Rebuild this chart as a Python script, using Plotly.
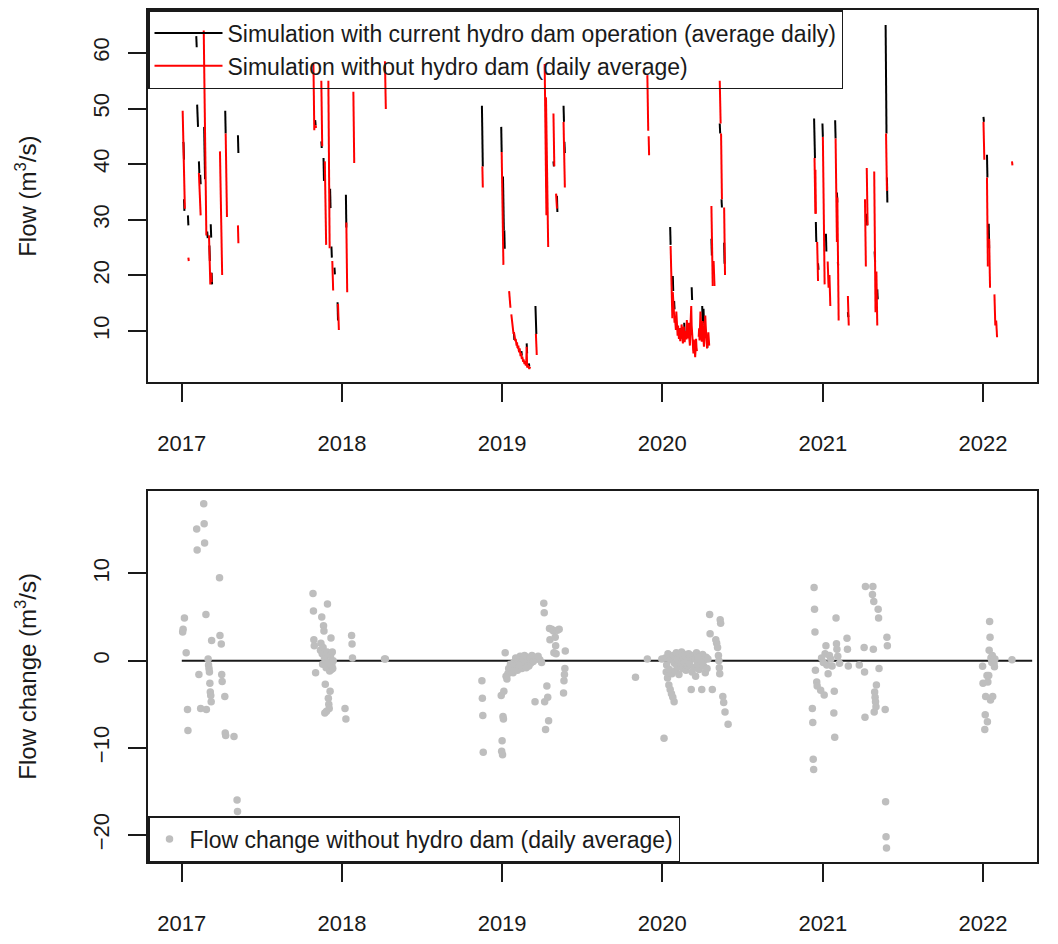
import pandas as pd
import plotly.graph_objects as go

# ---------------- data ----------------
year_ticks = ["2017-01-01", "2018-01-01", "2019-01-01", "2020-01-01", "2021-01-01", "2022-01-01"]
year_labels = ["2017", "2018", "2019", "2020", "2021", "2022"]
flow_ticks = [10, 20, 30, 40, 50, 60]
change_ticks = [-20, -10, 0, 10]

# daily runs: (first day, consecutive daily values) -- simulation with current hydro dam operation
cur_runs = [
    ("2017-01-04", [44.0, 43.8, 40.8]), ("2017-01-06", [33.7, 31.6]), ("2017-01-15", [30.8, 29.0]),
    ("2017-02-03", [63.0, 61.0]), ("2017-02-05", [50.7, 48.5, 46.7]), ("2017-02-09", [40.5, 38.4]),
    ("2017-02-12", [38.1, 36.4]), ("2017-02-21", [46.7, 42.0, 37.3]), ("2017-02-28", [27.9, 26.7]),
    ("2017-03-05", [25.4, 22.6]), ("2017-03-08", [29.2, 26.8]), ("2017-03-10", [20.5, 18.4]),
    ("2017-04-10", [49.6, 45.5]), ("2017-05-09", [45.2, 42.0]),
    ("2017-11-01", [47.9, 47.0]), ("2017-11-15", [44.1, 42.9]), ("2017-11-20", [41.1, 37.0]),
    ("2017-12-05", [35.6, 32.1]), ("2017-12-08", [25.2, 23.2]), ("2017-12-15", [21.4, 20.2]),
    ("2017-12-22", [15.2, 11.9]), ("2018-01-10", [34.5, 28.6]),
    ("2018-11-16", [50.5, 45.0, 39.6]), ("2018-12-30", [46.7, 42.2]), ("2019-01-03", [37.8, 33.0, 28.1]),
    ("2019-01-06", [28.1, 24.8]), ("2019-01-28", [9.6, 8.4]), ("2019-02-14", [6.4, 5.6]),
    ("2019-02-26", [7.8, 6.0]), ("2019-03-03", [4.2, 3.6]), ("2019-03-18", [14.5, 12.0, 9.5]),
    ("2019-04-12", [37.0, 35.5]), ("2019-04-28", [40.5, 39.6]), ("2019-05-06", [34.3, 31.4]),
    ("2019-05-21", [50.5, 47.6]), ("2019-05-23", [44.0, 42.0]),
    ("2020-01-19", [28.7, 25.5]), ("2020-01-25", [19.9, 17.2]), ("2020-01-28", [15.4, 13.9]),
    ("2020-02-10", [9.0, 10.5, 8.6]), ("2020-02-20", [11.5, 9.5]), ("2020-03-08", [17.9, 15.6]),
    ("2020-03-12", [8.0, 6.5]), ("2020-04-01", [14.5, 11.0]), ("2020-04-03", [12.5, 14.0, 11.5]),
    ("2020-04-12", [9.0, 7.0]), ("2020-04-22", [26.6, 23.6]), ("2020-05-11", [47.3, 45.5]),
    ("2020-05-15", [33.7, 32.2]), ("2020-05-21", [25.9, 22.1]),
    ("2020-12-12", [48.2, 44.0, 41.1]), ("2020-12-16", [29.6, 26.0]), ("2020-12-21", [22.2, 21.0]),
    ("2020-12-31", [47.3, 44.9]), ("2021-01-08", [27.5, 24.3]), ("2021-01-29", [47.9, 44.6]),
    ("2021-02-02", [34.9, 33.1]), ("2021-02-04", [22.4, 21.8]), ("2021-02-27", [13.4, 12.5]),
    ("2021-04-11", [31.1, 29.0]), ("2021-04-29", [24.3, 22.5]), ("2021-05-05", [17.5, 15.7]),
    ("2021-05-24", [65.0, 55.0, 45.5]), ("2021-05-27", [37.6, 33.1]),
    ("2022-01-02", [48.5, 47.6]), ("2022-01-10", [41.7, 37.6]), ("2022-01-14", [29.3, 24.9]),
]

# daily runs -- simulation without hydro dam
nodam_runs = [
    ("2017-01-03", [49.6, 45.0, 40.8, 36.0, 33.7, 32.0]), ("2017-01-16", [23.2, 22.6]),
    ("2017-02-09", [38.4, 36.0, 34.3, 32.5, 30.8]), ("2017-02-20", [64.0, 58.0, 50.0, 42.0, 35.0, 30.0, 27.2]),
    ("2017-03-04", [27.2, 24.0, 21.0, 18.4, 19.5, 20.5, 18.8]), ("2017-03-29", [42.3, 36.0, 30.2, 27.8, 24.0, 20.1]),
    ("2017-04-11", [45.5, 40.0, 35.0, 30.5]), ("2017-05-09", [29.0, 25.8]),
    ("2017-10-28", [58.0, 52.0, 46.1]), ("2017-11-02", [47.0, 46.5]), ("2017-11-15", [55.0, 49.0, 43.2]),
    ("2017-11-23", [40.5, 35.0, 30.0, 25.5]), ("2017-12-01", [55.0, 45.0, 35.0, 24.9]),
    ("2017-12-10", [22.6, 20.0, 17.3]), ("2017-12-23", [14.9, 12.5, 10.2]),
    ("2018-01-11", [29.5, 23.0, 17.0]), ("2018-01-27", [53.0, 46.0, 40.2]), ("2018-04-09", [58.5, 54.0, 49.9]),
    ("2018-11-17", [39.6, 35.8]), ("2018-12-31", [42.2, 36.0, 30.0, 26.0, 21.9]),
    ("2019-01-17", [17.2, 16.0, 15.4, 14.2]),
    ("2019-01-22", [13.0, 12.0, 11.2, 10.7, 10.0, 9.5, 9.8, 8.8, 9.2, 8.2, 8.6, 7.8, 7.4, 8.0, 7.0]),
    ("2019-02-06", [6.8, 7.4, 6.5, 6.2, 6.9, 5.8, 5.5, 6.1, 5.2, 5.0, 5.4, 4.7, 4.5, 4.9, 4.3, 4.1,
                    4.6, 4.0, 3.8, 4.2, 7.2, 3.6, 3.5, 3.9, 3.4, 3.3, 3.2, 3.5, 3.3]),
    ("2019-03-19", [9.5, 7.5, 5.7]), ("2019-04-08", [58.0, 50.0, 42.0, 35.0, 30.8]),
    ("2019-04-11", [52.0, 44.0, 36.0, 30.0, 27.0, 25.1]), ("2019-04-28", [49.1, 44.0, 39.6]),
    ("2019-05-04", [34.7, 33.0, 32.0]), ("2019-05-21", [47.6, 42.0, 38.0, 35.8]),
    ("2019-11-28", [56.0, 50.0, 46.0]), ("2019-12-01", [45.0, 41.6]),
    ("2020-01-20", [25.3, 21.0, 17.0, 14.0, 12.3]),
    ("2020-01-25", [17.0, 15.5, 14.0, 12.8, 11.5, 12.5, 11.0, 10.2, 13.5, 11.8, 10.0, 9.2, 11.0, 9.8,
                    8.6, 10.5, 9.0, 8.2, 9.5, 8.8, 11.2, 9.6, 8.4, 7.8, 9.0, 10.8, 9.2, 8.0, 8.9, 10.0,
                    9.1, 8.5, 12.0, 9.4, 8.7, 9.9, 11.5, 9.3, 8.2, 7.4, 10.4, 12.5, 14.5, 11.0, 9.0, 8.0,
                    7.0, 6.0, 8.5, 7.5, 6.2, 5.3, 6.8, 8.6, 7.1, 6.4]),
    ("2020-03-24", [9.0, 10.5, 8.3, 12.0, 13.5, 11.2, 9.4, 8.1, 10.0, 11.8, 9.6, 8.0, 7.2, 8.8, 10.2,
                    12.8, 11.0, 9.5, 7.8, 6.9, 8.4, 7.6, 9.8, 8.2, 7.4]),
    ("2020-04-22", [32.5, 26.0, 20.0, 18.1]), ("2020-04-27", [22.6, 20.5, 18.1]),
    ("2020-05-11", [55.0, 51.0, 47.3]), ("2020-05-14", [45.5, 40.0, 33.7]), ("2020-05-21", [32.2, 26.0, 20.1]),
    ("2020-12-13", [41.1, 36.0, 31.1]), ("2020-12-15", [39.0, 31.1]), ("2020-12-19", [26.0, 22.0, 19.0]),
    ("2021-01-01", [44.9, 38.0, 31.0, 25.0, 18.4]), ("2021-01-12", [22.5, 20.0, 17.8]),
    ("2021-01-16", [20.1, 17.0, 14.5]), ("2021-01-30", [44.6, 38.0, 32.0, 26.0]),
    ("2021-02-03", [34.0, 26.0, 19.0, 11.9]), ("2021-02-27", [16.3, 13.0, 11.0]),
    ("2021-04-07", [33.7, 28.0, 21.6]), ("2021-04-11", [39.3, 34.0, 29.0]),
    ("2021-04-28", [38.7, 30.0, 22.0, 13.4]), ("2021-05-03", [20.7, 15.0, 11.0]),
    ("2021-05-25", [45.5, 40.0, 35.2]),
    ("2022-01-02", [47.6, 44.0, 40.8]), ("2022-01-10", [37.6, 30.0, 21.6]), ("2022-01-15", [26.6, 22.0, 17.8]),
    ("2022-01-27", [16.6, 13.0, 11.0]), ("2022-01-31", [11.9, 10.0, 8.9]), ("2022-03-08", [40.5, 39.8]),
]

# flow change without hydro dam (daily average)
change_dates = [
    "2017-01-03", "2017-01-04", "2017-01-07", "2017-01-11", "2017-01-14", "2017-01-15", "2017-02-04",
    "2017-02-05", "2017-02-09", "2017-02-13", "2017-02-20", "2017-02-21", "2017-02-22", "2017-02-25",
    "2017-02-26", "2017-03-02", "2017-03-03", "2017-03-04", "2017-03-05", "2017-03-06", "2017-03-07",
    "2017-03-08", "2017-03-09", "2017-03-10", "2017-03-28", "2017-03-29", "2017-04-01", "2017-04-02",
    "2017-04-03", "2017-04-09", "2017-04-10", "2017-04-11", "2017-04-30", "2017-05-07", "2017-05-08",
    "2017-10-27", "2017-10-28", "2017-10-29", "2017-10-30", "2017-11-02", "2017-11-13", "2017-11-14",
    "2017-11-16", "2017-11-17", "2017-11-18", "2017-11-19", "2017-11-20", "2017-11-21", "2017-11-22",
    "2017-11-23", "2017-11-24", "2017-11-25", "2017-11-26", "2017-11-27", "2017-11-28", "2017-11-29",
    "2017-11-30", "2017-12-01", "2017-12-02", "2017-12-03", "2017-12-04", "2017-12-05", "2017-12-06",
    "2017-12-07", "2017-12-08", "2017-12-09", "2017-12-10", "2017-12-11", "2017-12-12", "2018-01-08",
    "2018-01-10", "2018-01-23", "2018-01-24", "2018-01-25", "2018-04-08", "2018-04-10",
    "2018-11-16", "2018-11-17", "2018-11-18", "2018-11-19", "2018-12-30", "2018-12-31", "2019-01-01",
    "2019-01-02", "2019-01-03", "2019-01-04", "2019-01-05", "2019-01-08", "2019-01-10", "2019-01-12",
    "2019-01-14", "2019-01-16", "2019-01-18", "2019-01-20", "2019-01-22", "2019-01-24", "2019-01-26",
    "2019-01-28", "2019-01-30", "2019-02-01", "2019-02-03", "2019-02-05", "2019-02-07", "2019-02-09",
    "2019-02-11", "2019-02-13", "2019-02-15", "2019-02-17", "2019-02-19", "2019-02-21", "2019-02-23",
    "2019-02-25", "2019-02-27", "2019-03-01", "2019-03-03", "2019-03-05", "2019-03-07", "2019-03-10",
    "2019-03-13", "2019-03-17", "2019-03-20", "2019-03-24", "2019-03-28", "2019-04-01", "2019-04-06",
    "2019-04-07", "2019-04-08", "2019-04-10", "2019-04-13", "2019-04-15", "2019-04-17", "2019-04-19",
    "2019-04-20", "2019-04-24", "2019-04-28", "2019-04-29", "2019-05-02", "2019-05-03", "2019-05-04",
    "2019-05-07", "2019-05-11", "2019-05-21", "2019-05-22", "2019-05-23", "2019-05-24", "2019-05-25",
    "2019-11-01", "2019-11-28", "2019-12-31", "2020-01-05", "2020-01-08", "2020-01-10", "2020-01-11",
    "2020-01-13", "2020-01-14", "2020-01-16", "2020-01-17", "2020-01-19", "2020-01-20", "2020-01-22",
    "2020-01-23", "2020-01-25", "2020-01-26", "2020-01-28", "2020-01-29", "2020-01-31", "2020-02-02",
    "2020-02-04", "2020-02-06", "2020-02-08", "2020-02-10", "2020-02-12", "2020-02-14", "2020-02-16",
    "2020-02-18", "2020-02-20", "2020-02-22", "2020-02-24", "2020-02-26", "2020-02-28", "2020-03-01",
    "2020-03-03", "2020-03-05", "2020-03-07", "2020-03-09", "2020-03-11", "2020-03-13", "2020-03-15",
    "2020-03-17", "2020-03-19", "2020-03-21", "2020-03-23", "2020-03-25", "2020-03-27", "2020-03-29",
    "2020-03-31", "2020-04-02", "2020-04-04", "2020-04-06", "2020-04-08", "2020-04-10", "2020-04-12",
    "2020-04-14", "2020-04-18", "2020-04-19", "2020-04-24", "2020-05-02", "2020-05-04", "2020-05-06",
    "2020-05-08", "2020-05-09", "2020-05-10", "2020-05-11", "2020-05-12", "2020-05-13", "2020-05-18",
    "2020-05-20", "2020-05-23", "2020-05-30",
    "2020-12-08", "2020-12-09", "2020-12-10", "2020-12-11", "2020-12-12", "2020-12-13", "2020-12-14",
    "2020-12-15", "2020-12-18", "2020-12-19", "2020-12-27", "2020-12-29", "2021-01-02", "2021-01-04",
    "2021-01-06", "2021-01-08", "2021-01-10", "2021-01-13", "2021-01-16", "2021-01-19", "2021-01-22",
    "2021-01-26", "2021-01-27", "2021-01-28", "2021-01-31", "2021-02-01", "2021-02-02", "2021-02-04",
    "2021-02-08", "2021-02-25", "2021-02-26", "2021-02-28", "2021-03-25", "2021-04-05", "2021-04-06",
    "2021-04-07", "2021-04-08", "2021-04-24", "2021-04-25", "2021-04-26", "2021-04-27", "2021-04-28",
    "2021-04-29", "2021-04-30", "2021-05-01", "2021-05-02", "2021-05-03", "2021-05-07", "2021-05-08",
    "2021-05-09", "2021-05-23", "2021-05-24", "2021-05-25", "2021-05-26", "2021-05-27", "2021-05-28",
    "2021-12-31", "2022-01-01", "2022-01-05", "2022-01-06", "2022-01-07", "2022-01-10", "2022-01-11",
    "2022-01-12", "2022-01-14", "2022-01-15", "2022-01-16", "2022-01-17", "2022-01-18", "2022-01-19",
    "2022-01-21", "2022-01-22", "2022-01-23", "2022-01-26", "2022-01-27", "2022-01-28", "2022-03-08",
]
change_values = [
    3.3, 3.6, 4.9, 0.9, -5.6, -8.0, 15.1,
    12.7, -1.6, -5.5, 18.0, 15.7, 13.5, 5.3,
    -5.6, 0.2, -0.5, -0.9, -1.3, -2.6, -3.6,
    -4.0, -4.7, 2.3, 9.5, 2.9, 1.9, -1.6,
    -2.4, -4.1, -8.3, -8.6, -8.7, -16.0, -17.3,
    7.7, 5.7, 2.4, 1.7, -1.4, 1.2, 2.0,
    5.0, 0.8, -0.4, 1.5, 4.0, 3.4, 0.3,
    -6.0, -2.7, 0.5, -0.8, -5.8, 1.0, 6.5,
    -0.2, -4.3, -5.0, -5.5, -1.2, -3.5, 0.6,
    2.6, -1.0, -0.5, 1.0, -0.9, 0.0, -5.5,
    -6.7, 2.9, 1.9, 0.3, 0.2, 0.2,
    -2.3, -4.3, -6.3, -10.5, -4.0, -10.4, -9.2,
    -10.8, -6.4, -6.7, -3.5, 0.9, -1.8, -2.1,
    -1.5, -0.9, -1.2, -0.4, -1.0, -0.6, -1.4,
    -0.2, -0.8, 0.3, -0.5, -1.1, 0.1, -0.7,
    0.5, -0.3, -0.9, 0.2, -0.4, 0.6, -0.2,
    -0.8, 0.4, -0.1, -0.6, 0.3, -0.3, 0.6,
    -0.1, -4.7, 0.2, 0.5, 0.1, -0.2, 6.6,
    5.5, -4.7, -7.9, -2.9, -4.2, -6.9, 3.7,
    2.4, 3.6, 3.4, 0.9, 2.7, 1.7, 0.8,
    3.5, 3.6, -3.7, -2.3, -1.6, -0.9, 1.1,
    -1.9, 0.2, 0.2, -8.9, 0.3, -1.3, -0.5,
    -2.0, 0.8, -2.8, -1.0, -3.3, 0.1, -3.8,
    -1.5, -4.2, 0.6, -4.7, -0.3, -1.2, 0.9,
    -0.7, 0.2, -1.6, 0.5, -0.4, 1.0, -0.9,
    0.3, -0.2, 0.7, -1.1, 0.1, -0.6, 0.8,
    -0.3, 0.4, -3.3, -1.3, 0.6, -0.8, 0.2,
    -1.8, 0.9, -0.4, 0.3, -1.0, 0.5, -0.2,
    -3.3, 0.7, -0.6, 0.1, -1.4, 0.4, -0.9,
    0.2, 5.3, 3.1, -3.3, 2.4, 2.0, 1.5,
    0.6, 0.0, -0.8, -1.5, 4.7, 4.3, -4.1,
    -4.8, -5.9, -7.3,
    -5.5, -7.1, -11.3, -12.5, 8.4, 5.9, 3.3,
    -1.1, -2.45, -2.9, -3.4, 0.3, -0.2, -3.95,
    0.8, 1.7, -0.5, -1.5, 0.6, 0.2, -0.6,
    -6.0, -3.5, -8.8, 4.9, 1.95, 1.3, 0.5,
    -0.3, 2.56, 1.3, -0.6, -0.5, 1.5, -1.3,
    -6.5, 8.5, 7.6, 8.5, 1.3, 6.8, -5.9,
    -3.6, -4.2, -4.7, -5.3, -2.8, 5.9, 4.9,
    -0.9, -5.6, -16.2, -20.2, -21.5, 2.7, 1.7,
    -0.65, -2.6, -7.9, -6.2, -4.1, -1.7, -7.0,
    -2.45, -1.7, 1.2, 4.5, 2.7, -4.5, 0.3,
    -0.2, 0.6, -4.1, -0.3, -0.7, 0.2, 0.1,
]
zero_line_dates = ["2017-01-01", "2022-04-23"]
zero_line_values = [0, 0]


def build(runs):
    xs, ys = [], []
    for start, vals in runs:
        d0 = pd.Timestamp(start)
        for i, v in enumerate(vals):
            xs.append(d0 + pd.Timedelta(days=i))
            ys.append(v)
        xs.append(d0 + pd.Timedelta(days=len(vals)))
        ys.append(None)
    return xs, ys


cur_x, cur_y = build(cur_runs)
nod_x, nod_y = build(nodam_runs)

FONT = "Arial, 'Liberation Sans', sans-serif"
INK = "#1a1a1a"

fig = go.Figure()
fig.add_trace(go.Scatter(x=cur_x, y=cur_y, mode="lines", connectgaps=False,
                         line=dict(color="black", width=2),
                         name="Simulation with current hydro dam operation (average daily)",
                         xaxis="x", yaxis="y", legend="legend"))
fig.add_trace(go.Scatter(x=nod_x, y=nod_y, mode="lines", connectgaps=False,
                         line=dict(color="#ff0000", width=2),
                         name="Simulation without hydro dam (daily average)",
                         xaxis="x", yaxis="y", legend="legend"))
fig.add_trace(go.Scatter(x=zero_line_dates, y=zero_line_values, mode="lines",
                         line=dict(color=INK, width=2), showlegend=False,
                         xaxis="x2", yaxis="y2"))
fig.add_trace(go.Scatter(x=pd.to_datetime(change_dates), y=change_values, mode="markers",
                         marker=dict(color="#bebebe", size=7.5),
                         name="Flow change without hydro dam (daily average)",
                         xaxis="x2", yaxis="y2", legend="legend2"))

xrange = ["2016-10-16", "2022-05-04"]
common_x = dict(type="date", range=xrange, tickmode="array", tickvals=year_ticks, ticktext=year_labels,
                ticks="outside", ticklen=18, tickwidth=1.5, tickcolor=INK,
                showline=True, mirror=True, linecolor=INK, linewidth=1.5,
                showgrid=False, zeroline=False, ticklabelstandoff=23,
                tickfont=dict(family=FONT, size=22, color=INK))
common_y = dict(tickmode="array", ticks="outside", ticklen=18, tickwidth=1.5, tickcolor=INK,
                showline=True, mirror=True, linecolor=INK, linewidth=1.5,
                showgrid=False, zeroline=False, tickangle=-90, ticklabelstandoff=10,
                tickfont=dict(family=FONT, size=22, color=INK))

fig.update_layout(
    width=1058, height=944,
    margin=dict(l=148, r=21, t=8, b=71),
    paper_bgcolor="white", plot_bgcolor="white",
    font=dict(family=FONT, size=22, color=INK),
    xaxis=dict(domain=[0, 1], anchor="y", **common_x),
    yaxis=dict(domain=[0.563, 1], anchor="x", range=[0.8, 67.7], tickvals=flow_ticks,
               title=dict(text="Flow (m<sup>3</sup>/s)", standoff=46,
                          font=dict(family=FONT, size=24, color=INK)),
               **common_y),
    xaxis2=dict(domain=[0, 1], anchor="y2", **common_x),
    yaxis2=dict(domain=[0, 0.4358], anchor="x2", range=[-23.1, 19.5], tickvals=change_ticks,
                title=dict(text="Flow change (m<sup>3</sup>/s)", standoff=46,
                           font=dict(family=FONT, size=24, color=INK)),
                **common_y),
    legend=dict(x=0, y=1, xanchor="left", yanchor="top", bgcolor="rgba(0,0,0,0)",
                bordercolor=INK, borderwidth=1.5, itemwidth=68,
                font=dict(family=FONT, size=23, color=INK)),
    legend2=dict(x=0, y=0, xanchor="left", yanchor="bottom", bgcolor="rgba(0,0,0,0)",
                 bordercolor=INK, borderwidth=1.5,
                 font=dict(family=FONT, size=23, color=INK)),
)

fig.write_html("out.html")
